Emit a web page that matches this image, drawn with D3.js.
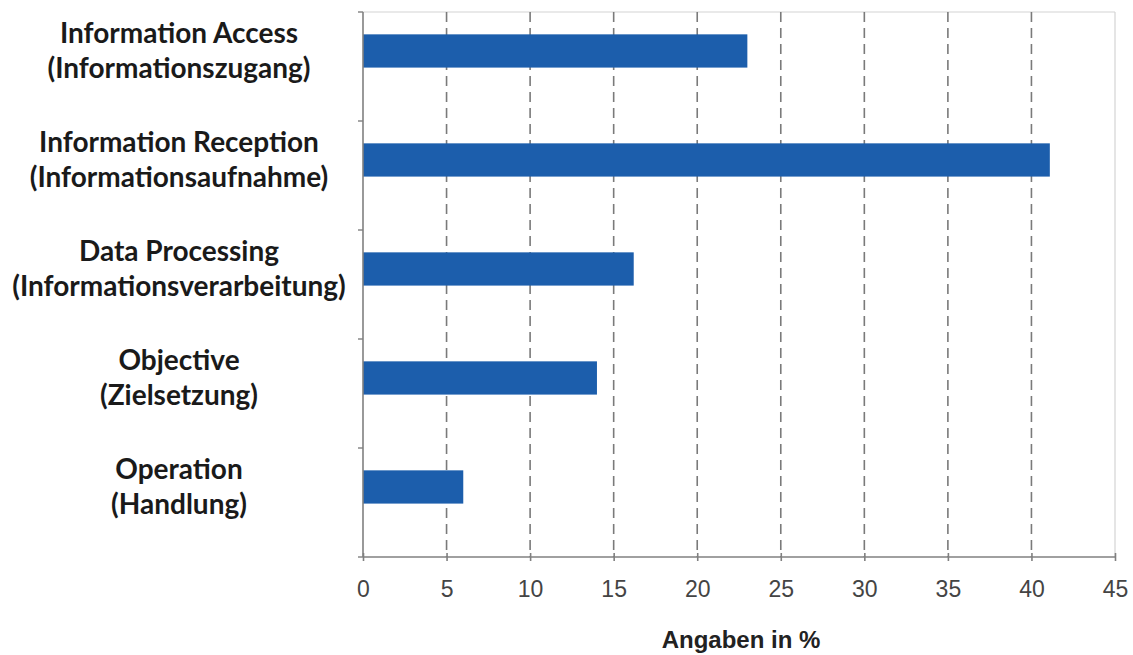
<!DOCTYPE html>
<html>
<head>
<meta charset="utf-8">
<script src="https://cdn.jsdelivr.net/npm/d3@7"></script>
<style>
  html, body { margin: 0; padding: 0; background: #fff; }
  svg { display: block; }
</style>
</head>
<body>
<svg id="chart" width="1133" height="655"></svg>
<script>
const categoriesEn = ["Information Access", "Information Reception", "Data Processing", "Objective", "Operation"];
const categoriesDe = ["(Informationszugang)", "(Informationsaufnahme)", "(Informationsverarbeitung)", "(Zielsetzung)", "(Handlung)"];
const values = [23.0, 41.1, 16.2, 14.0, 6.0];
const xTicks = [0, 5, 10, 15, 20, 25, 30, 35, 40, 45];
const xTitle = "Angaben in %";

const svg = d3.select("#chart");
const pLeft = 363, pRight = 1115, pTop = 12, pBottom = 557;

const x = d3.scaleLinear().domain([0, 45]).range([pLeft, pRight]);
const y = d3.scaleBand().domain(categoriesEn).range([pTop, pBottom]).padding(0);
const bw = y.bandwidth();
const barOff = bw * 0.205, barH = bw * 0.305;

// plot border (light)
svg.append("line").attr("x1", pLeft).attr("x2", pRight).attr("y1", pTop).attr("y2", pTop)
  .attr("stroke", "#d4d4d4").attr("stroke-width", 1.2);
svg.append("line").attr("x1", pRight).attr("x2", pRight).attr("y1", pTop).attr("y2", pBottom)
  .attr("stroke", "#d4d4d4").attr("stroke-width", 1.2);

// gridlines
svg.append("g").selectAll("line").data(xTicks.filter(t => t > 0 && t < 45)).join("line")
  .attr("x1", d => x(d)).attr("x2", d => x(d))
  .attr("y1", pTop).attr("y2", pBottom)
  .attr("stroke", "#7a7a7a").attr("stroke-width", 1.6)
  .attr("stroke-dasharray", "10,6");

// bars
svg.append("g").selectAll("rect").data(values).join("rect")
  .attr("x", x(0))
  .attr("y", (d, i) => y(categoriesEn[i]) + barOff)
  .attr("width", d => x(d) - x(0))
  .attr("height", barH)
  .attr("fill", "#1c5eac");

// x axis
const xAxis = d3.axisBottom(x).tickValues(xTicks).tickSize(8).tickSizeOuter(0).tickPadding(20);
const gx = svg.append("g").attr("transform", `translate(0,${pBottom - 4})`).call(xAxis);
gx.select(".domain").attr("stroke", "#808080").attr("stroke-width", 1.6).attr("d", `M${pLeft},4H${pRight}`);
gx.selectAll(".tick line").attr("stroke", "#808080").attr("stroke-width", 1.6);
gx.selectAll(".tick text")
  .attr("font-family", "'Liberation Sans', Arial, sans-serif")
  .attr("font-size", 23).attr("fill", "#444");

// y axis
const yEdges = categoriesEn.map(c => y(c)).concat([pBottom]);
svg.append("line").attr("x1", pLeft).attr("x2", pLeft).attr("y1", pTop).attr("y2", pBottom)
  .attr("stroke", "#808080").attr("stroke-width", 1.6);
svg.append("g").selectAll("line").data(yEdges).join("line")
  .attr("x1", pLeft - 5).attr("x2", pLeft).attr("y1", d => d).attr("y2", d => d)
  .attr("stroke", "#808080").attr("stroke-width", 1.4);

// category labels
const labX = 179;
const lab = svg.append("g").selectAll("g").data(categoriesEn).join("g")
  .attr("transform", d => `translate(${labX},${y(d) + barOff + barH / 2})`)
  .attr("font-family", "Lato, 'Open Sans', sans-serif")
  .attr("font-weight", 700).attr("font-size", 28).attr("fill", "#1a1a1a")
  .attr("text-anchor", "middle");
lab.append("text").attr("y", -8).text(d => d);
lab.append("text").attr("y", 27).text((d, i) => categoriesDe[i]);

// x title
svg.append("text").attr("x", 741).attr("y", 648)
  .attr("text-anchor", "middle")
  .attr("font-family", "'Liberation Sans', Arial, sans-serif")
  .attr("font-weight", 700).attr("font-size", 24).attr("fill", "#222")
  .text(xTitle);
</script>
</body>
</html>
